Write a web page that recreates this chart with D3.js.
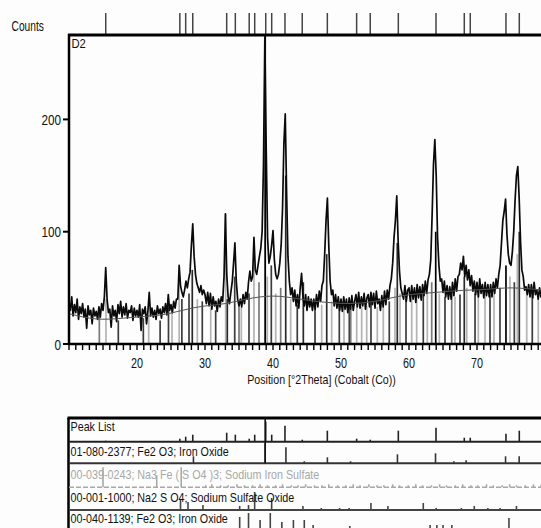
<!DOCTYPE html>
<html><head><meta charset="utf-8">
<script src="https://cdn.jsdelivr.net/npm/d3@7"></script>
<style>body{margin:0;background:#fff}svg{display:block}</style>
</head><body>
<svg id="chart" width="541" height="528"></svg>
<script>
// ---------- DATA ----------
const scanStart = 10, scanStep = 0.2;   // °2Theta sampling grid of the measured scan
const counts = [
 38,30,42,25,35,28,40,22,33,27,
 36,24,31,14,34,26,30,18,32,25,
 29,22,33,24,36,30,42,68,40,28,
 31,15,34,25,30,20,35,27,38,24,
 33,26,36,23,30,28,34,21,32,25,
 30,24,35,12,31,27,33,18,29,46,
 25,32,24,30,22,34,27,31,23,33,
 28,36,26,44,30,35,28,38,32,40,
 40,70,52,46,42,48,56,50,58,64,
 88,107,78,62,54,50,46,52,44,48,
 44,36,46,34,45,31,42,34,38,29,
 40,33,42,38,60,116,62,42,36,46,
 55,72,90,56,40,34,40,33,44,36,
 46,40,55,65,56,60,95,66,62,70,
 78,85,100,160,273,175,95,72,78,88,
 101,75,62,58,62,72,88,120,178,205,
 135,78,56,44,50,38,48,34,44,32,
 50,63,42,34,44,30,42,33,40,30,
 40,31,44,33,47,38,52,56,80,110,
 130,88,56,44,48,34,44,32,42,30,
 40,29,42,31,40,28,41,31,43,30,
 38,44,33,46,32,42,34,45,31,41,
 44,33,46,35,45,32,47,36,40,30,
 43,33,47,35,48,40,52,58,72,95,
 110,132,92,65,50,45,40,52,38,48,
 50,38,52,40,50,37,53,41,51,39,
 53,43,56,45,57,62,75,115,160,182,
 150,95,70,56,58,46,56,42,52,40,
 51,40,55,43,58,47,60,62,72,66,
 78,60,70,57,66,52,61,47,56,44,
 55,42,58,45,53,41,55,43,53,42,
 53,42,55,45,58,50,62,70,90,110,
 118,129,98,80,72,70,82,100,128,150,
 158,130,92,66,60,48,51,44,53,42,
 53,41,55,44,48,40,50,42,48,44,
 46];

const bgTheta  = [10,12,14,16,18,20,22,24,26,28,30,32,34,36,38,40,42,44,46,48,50,52,54,56,58,60,62,64,66,68,70,72,74,76,78,80];
const bgCounts = [27,24,22,22,23,24,25,26,29,32,34,35,37,40,42,43,42,40,38,37,36,36,37,39,42,44,45,46,47,48,48,49,50,50,49,48];

// reference-pattern sticks shown in the scan
const stickTheta = [14.46,15.44,17.25,20.93,21.72,23.4,24.63,25.15,26.2,26.6,27.65,28.13,28.87,29.6,30.84,31.57,33.04,33.28,34.37,35.0,35.34,36.47,37.2,37.94,39.16,39.75,40.4,41.13,41.87,42.6,43.57,44.46,46.18,47.16,47.9,48.63,49.75,50.44,51.22,51.43,52.31,53.04,53.78,54.41,55.34,56.22,57.1,57.94,58.28,58.68,59.56,60.4,61.13,62.1,62.69,63.34,63.93,64.46,65.29,66.28,66.76,67.5,68.13,68.49,69.71,70.19,71.18,71.91,72.5,73.38,74.26,74.85,75.49,75.93,76.22,77.31,78.13,79.01];
const stickTop   = [26,40,21,23,26,21,33,30,60,40,45,66,40,38,32,30,116,40,60,35,33,45,90,55,60,70,45,50,150,40,35,55,38,35,80,38,36,34,35,33,34,33,34,38,33,34,38,50,90,45,40,40,40,44,45,55,100,45,42,44,42,44,60,50,45,44,45,44,45,50,70,60,55,80,100,48,46,46];
const stickSet   = ["B","N","S","S","N","S","S","N","N","S","S","A","N","S","N","S","N","A","S","B","N","S","N","B","N","S","N","B","A","N","S","A","S","N","A","N","S","N","S","B","N","N","N","S","N","N","S","N","A","N","S","N","N","S","N","B","P","N","S","B","N","S","A","N","S","N","N","S","N","S","P","N","S","N","A","N","S","N"];

// peak list (top markers + first row)
const selectedPeak = 38.85;
const peakTheta = [15.4,26.3,27.16,28.2,33.19,34.46,36.5,37.31,38.93,39.81,41.76,44.3,47.99,52.3,54.3,58.43,63.97,68.13,69.01,74.26,76.22];
const peakRel   = [5,15,25,35,45,35,15,35,100,35,80,10,55,15,10,55,70,20,20,40,55];

// reference patterns (rows below)
const refNames = ["01-080-2377; Fe2 O3; Iron Oxide","00-039-0243; Na3 Fe ( S O4 )3; Sodium Iron Sulfate","00-001-1000; Na2 S O4; Sodium Sulfate Oxide","00-040-1139; Fe2 O3; Iron Oxide"];
const ref1Theta = [28.3,38.85,41.9,44.6,48.0,51.4,58.3,63.9,66.6,68.4,74.2,76.2];
const ref1Rel   = [35,100,80,10,30,10,45,50,10,15,35,35];
const ref2Theta = [15.0,22.9,26.5,30.1,31.0,32.3,33.4,34.7,35.8,37.0,38.1,39.2,40.4,41.4,42.7,43.7,44.8,46.1,47.2,48.2,49.5,50.7,51.8,52.8,54.1,55.3,56.3,57.6,58.6,59.9,61.0,62.0,63.3,64.5,65.5,66.8,67.9,69.1,70.1,71.4,72.4,73.7,74.8,75.8,77.1,78.3,79.4];
const ref2Rel   = [100,60,100,10,15,10,10,15,10,10,15,10,10,15,10,10,15,10,10,15,10,10,15,10,15,10,10,15,10,10,15,10,10,15,10,10,15,10,10,15,10,10,15,10,10,15,10];
const ref3Theta = [26.4,27.5,29.7,35.1,36.4,37.3,39.8,44.4,47.1,49.8,51.2,54.4,56.9,62.1,64.0,67.7,69.6,71.6,73.4,75.8];
const ref3Rel   = [50,40,25,20,25,90,60,20,10,10,10,35,20,35,10,10,20,10,10,20];
const ref4Theta = [35.1,36.4,38.1,39.6,41.3,43.0,44.6,45.9,51.3,63.1,64.1,65.0,66.3,74.7];
const ref4Rel   = [80,100,65,100,55,65,65,40,35,40,40,40,40,75];

const yTicks = [0,100,200];
const xTicks = [20,30,40,50,60,70];
const xMinor = d3.range(10,81,1);

// ---------- DRAW ----------
const svg = d3.select("#chart");
const FONT = "'Liberation Sans', Arial, sans-serif";
function label(g, x, y, s, size, sx, anchor, fill){
  return g.append("text").attr("transform",`translate(${x},${y}) scale(${sx},1)`)
    .attr("font-family",FONT).attr("font-size",size).attr("text-anchor",anchor||"start")
    .attr("fill",fill||"#111").text(s);
}

const x = d3.scaleLinear().domain([10,80]).range([69,545]);
const y = d3.scaleLinear().domain([0,100]).range([344,231.7]);
const plotTop = 34, plotBottom = 344, plotLeft = 69;

svg.append("rect").attr("width",541).attr("height",528).attr("fill","#fdfdfd");

svg.append("clipPath").attr("id","clip").append("rect")
  .attr("x",plotLeft).attr("y",plotTop).attr("width",541-plotLeft).attr("height",plotBottom-plotTop);

const setColor = {P:"#000",A:"#2a2a2a",S:"#3c3c3c",B:"#7a7a7a",N:"#b4b4b4"};
const plot = svg.append("g").attr("clip-path","url(#clip)");

plot.selectAll("line.stick").data(stickTheta).join("line").attr("class","stick")
  .attr("x1",d=>x(d)).attr("x2",d=>x(d)).attr("y1",y(0))
  .attr("y2",(d,i)=>y(stickTop[i]))
  .attr("stroke",(d,i)=>setColor[stickSet[i]]).attr("stroke-width",1.7);

// selected peak marker
plot.append("line").attr("x1",x(selectedPeak)).attr("x2",x(selectedPeak))
  .attr("y1",plotTop).attr("y2",plotBottom).attr("stroke","#000").attr("stroke-width",1.8);

const scan = counts.map((c,i)=>[scanStart+i*scanStep, c]);
plot.append("path").datum(scan)
  .attr("d", d3.line().x(d=>x(d[0])).y(d=>y(d[1])))
  .attr("fill","none").attr("stroke","#0a0a0a").attr("stroke-width",1.7).attr("stroke-linejoin","round");

plot.append("path").datum(bgTheta.map((t,i)=>[t,bgCounts[i]]))
  .attr("d", d3.line().curve(d3.curveBasis).x(d=>x(d[0])).y(d=>y(d[1])))
  .attr("fill","none").attr("stroke","#555").attr("stroke-width",1);

// top peak markers
svg.selectAll("line.pm").data(peakTheta).join("line").attr("class","pm")
  .attr("x1",d=>x(d)).attr("x2",d=>x(d)).attr("y1",13).attr("y2",plotTop)
  .attr("stroke","#444").attr("stroke-width",1.5);

// frame
svg.append("line").attr("x1",plotLeft-1).attr("x2",541).attr("y1",plotTop+1).attr("y2",plotTop+1)
  .attr("stroke","#000").attr("stroke-width",3);
svg.append("line").attr("x1",plotLeft).attr("x2",plotLeft).attr("y1",plotTop).attr("y2",plotBottom+1)
  .attr("stroke","#000").attr("stroke-width",2.5);
svg.append("line").attr("x1",plotLeft-1).attr("x2",541).attr("y1",plotBottom).attr("y2",plotBottom)
  .attr("stroke","#000").attr("stroke-width",2.5);

// y axis ticks
yTicks.forEach(t=>{
  svg.append("line").attr("x1",plotLeft-6).attr("x2",plotLeft).attr("y1",y(t)).attr("y2",y(t))
    .attr("stroke","#000").attr("stroke-width",2);
  label(svg, plotLeft-8, y(t)+5.5, String(t), 15, 0.78, "end");
});
// x axis ticks
svg.selectAll("line.xm").data(xMinor).join("line").attr("class","xm")
  .attr("x1",d=>x(d)).attr("x2",d=>x(d)).attr("y1",plotBottom).attr("y2",plotBottom+6)
  .attr("stroke","#000").attr("stroke-width",1.4);
xTicks.forEach(t=> label(svg, x(t), 367.5, String(t), 15, 0.72, "middle"));

label(svg, 321.5, 383.5, "Position [°2Theta] (Cobalt (Co))", 13, 0.82, "middle");
label(svg, 11.5, 30.5, "Counts", 14, 0.73, "start");
label(svg, 71.5, 48.3, "D2", 12.5, 0.9, "start");

// ---------- PEAK LIST PANEL ----------
const rowBottoms = [441.7, 463.3, 487.3, 510, 533];
const panelTop = 418;
const h = d3.scaleLinear().domain([0,100]).range([0,20]);
const panel = svg.append("g");

panel.append("line").attr("x1",plotLeft-1.5).attr("x2",541).attr("y1",panelTop).attr("y2",panelTop)
  .attr("stroke","#000").attr("stroke-width",3);
panel.append("line").attr("x1",plotLeft-0.5).attr("x2",plotLeft-0.5).attr("y1",panelTop).attr("y2",528)
  .attr("stroke","#000").attr("stroke-width",2.5);

function row(idx, thetas, rels, color, dashed){
  const base = rowBottoms[idx];
  panel.selectAll(null).data(thetas).join("line")
    .attr("x1",d=>x(d)).attr("x2",d=>x(d)).attr("y1",base).attr("y2",(d,i)=>base-h(rels[i]))
    .attr("stroke",color).attr("stroke-width",1.6);
  panel.append("line").attr("x1",plotLeft).attr("x2",541).attr("y1",base).attr("y2",base)
    .attr("stroke",color).attr("stroke-width",dashed?1.5:2)
    .attr("stroke-dasharray",dashed?"5,2":null);
}
row(0, peakTheta, peakRel, "#222");
row(1, ref1Theta, ref1Rel, "#333");
row(2, ref2Theta, ref2Rel, "#a8a8a8", true);
row(3, ref3Theta, ref3Rel, "#444");
row(4, ref4Theta, ref4Rel, "#444");

panel.append("line").attr("x1",x(selectedPeak)).attr("x2",x(selectedPeak))
  .attr("y1",panelTop).attr("y2",rowBottoms[1]).attr("stroke","#111").attr("stroke-width",1.6);

label(panel, 70.5, 430.5, "Peak List", 12.5, 0.86, "start");
const textBase = [455.5, 478.5, 501.5, 522.5];
const textFill = ["#111","#a8a8a8","#111","#111"];
refNames.forEach((n,i)=> label(panel, 70.5, textBase[i], n, 12.5, 0.86, "start", textFill[i]));
</script>
</body></html>
